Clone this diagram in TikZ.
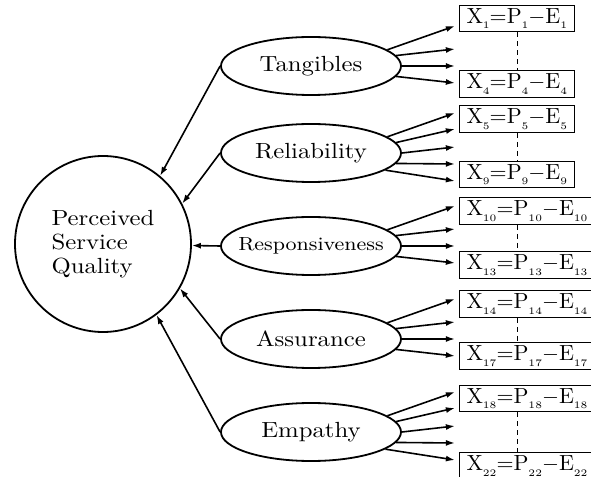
\documentclass[tikz,border=0pt]{standalone}
\usepackage{fontspec}
\setmainfont{Latin Modern Roman}[FakeStretch=1.13]
\newfontfamily\itemfont{Latin Modern Roman}
\usepackage{tikz}
\usetikzlibrary{arrows.meta,calc}
\usetikzlibrary{positioning,shapes}

\newcommand{\sbs}[1]{\raisebox{-0.6ex}{\fontsize{5}{6}\selectfont #1}}
\newcommand{\xpe}[1]{X\sbs{#1}=P\sbs{#1}$-$E\sbs{#1}}

\begin{document}
\begin{tikzpicture}[
    x=0.5bp, y=-0.5bp, >={Latex[length=4.5bp,width=3bp]},
    font=\fontsize{11}{12}\selectfont,
    dim/.style={draw, ellipse, line width=0.9bp, minimum width=90bp, minimum height=29bp, inner sep=0pt},
    item/.style={draw, line width=0.5bp, anchor=west, inner xsep=3.5bp, inner ysep=1.5bp,
                 minimum height=11bp, font=\itemfont\fontsize{11}{12}\selectfont},
    link/.style={->, line width=0.8bp},
    gap/.style={dash pattern=on 2.5bp off 2bp, line width=0.5bp}
]

% frame of the page
\path[use as bounding box] (0,0) rectangle (591,477);
\clip (0,0) rectangle (591,477);

% overall quality
\node[draw, circle, line width=0.9bp, minimum size=88bp, align=left] (psq) at (103,244)
      {Perceived\\Service\\Quality};

% five dimensions
\node[dim] (tang) at (311,66) {Tangibles};
\node[dim] (reli) at (311,153) {Reliability};
\node[dim, font=\fontsize{9.5}{11}\selectfont] (resp) at (311,246) {\makebox[0pt]{Responsiveness}};
\node[dim] (assu) at (311,339) {Assurance};
\node[dim] (empa) at (311,432) {Empathy};

% item boxes
\node[item] (x1)  at (459,18.5)  {\xpe{1}};
\node[item] (x4)  at (459,84)    {\xpe{4}};
\node[item] (x5)  at (459,119)   {\xpe{5}};
\node[item] (x9)  at (459,174.5) {\xpe{9}};
\node[item] (x10) at (459,211)   {\xpe{10}};
\node[item] (x13) at (459,265)   {\xpe{13}};
\node[item] (x14) at (459,304)   {\xpe{14}};
\node[item] (x17) at (459,356)   {\xpe{17}};
\node[item] (x18) at (459,398.5) {\xpe{18}};
\node[item] (x22) at (459,466)   {\xpe{22}};

% dashes between first and last item
\foreach \p/\q in {x1/x4, x5/x9, x10/x13, x14/x17, x18/x22}
  \draw[gap] ($(\p.south west)+(58,0)$) -- ($(\q.north west)+(58,0)$);

% dimensions -> quality
\draw[link] (tang.west) -- (psq.50);
\draw[link] (reli.west) -- (psq.27);
\draw[link] (resp.west) -- (psq);
\draw[link] (assu.west) -- (psq.-30);
\draw[link] (empa.west) -- (psq.-53);

% dimensions -> items
\foreach \n in {tang,resp,assu}
  \foreach \a/\d in {12/-40, 7/-17, 0/0, -7/17}
    \draw[link] (\n.\a) -- ($(\n.east)+(53,\d)$);
\foreach \n in {reli,empa}
  \foreach \a/\d in {12/-40, 7/-24, 0/-6, -7/11, -13/28}
    \draw[link] (\n.\a) -- ($(\n.east)+(53,\d)$);

\end{tikzpicture}
\end{document}
